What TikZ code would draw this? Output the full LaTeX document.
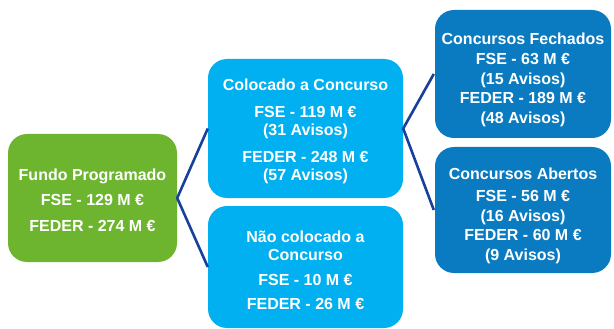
\documentclass[tikz,border=0pt]{standalone}
\usepackage{fontspec}
\setmainfont{Liberation Sans}
\definecolor{gfill}{HTML}{6EB52F}
\definecolor{lblue}{HTML}{00B0F0}
\definecolor{dblue}{HTML}{0A7BC0}
\definecolor{navy}{HTML}{16409A}
\begin{document}
\begin{tikzpicture}[x=1pt,y=-1pt,
  boxstyle/.style={rounded corners=19pt, inner sep=0pt},
  txt/.style={inner sep=0pt, align=center, text=white,
    font=\fontsize{16}{18.5}\selectfont\bfseries},
  txtwide/.style={txt, font=\fontsize{16}{19.8}\selectfont\bfseries},
  link/.style={draw=navy, line width=2.6pt, line join=miter}]
\useasboundingbox (0,0) rectangle (614,329);
\node[boxstyle, fill=gfill, minimum width=169pt, minimum height=128pt] (a) at (92.5,198) {};
\node[boxstyle, fill=lblue, minimum width=195pt, minimum height=139pt] (b) at (305.5,128.5) {};
\node[boxstyle, fill=lblue, minimum width=195pt, minimum height=122pt] (c) at (305.5,267) {};
\node[boxstyle, fill=dblue, minimum width=176pt, minimum height=128pt] (d) at (523,74) {};
\node[boxstyle, fill=dblue, minimum width=176pt, minimum height=126pt] (e) at (523,210) {};
\node[txt] (ta) at (92.5,200)
  {Fundo Programado\\[7pt]FSE - 129 M €\\[7pt]FEDER - 274 M €};
\node[txt] (tb) at (305.5,131.5)
  {Colocado a Concurso\\[8pt]FSE - 119 M €\\(31 Avisos)\\[8pt]FEDER - 248 M €\\(57 Avisos)};
\node[txt] (tc) at (305.5,270.5)
  {Não colocado a\\Concurso\\[6pt]FSE - 10 M €\\[6pt]FEDER - 26 M €};
\node[txtwide] (td) at (523,80)
  {Concursos Fechados\\FSE - 63 M €\\(15 Avisos)\\FEDER - 189 M €\\(48 Avisos)};
\node[txtwide] (te) at (523,216)
  {Concursos Abertos\\[2pt]FSE - 56 M €\\(16 Avisos)\\FEDER - 60 M €\\(9 Avisos)};
\draw[link] (b.west) -- (a.east) -- (c.west);
\draw[link] ([xshift=-1pt]d.west) -- (b.east) -- ([xshift=-1pt]e.west);
\end{tikzpicture}
\end{document}
